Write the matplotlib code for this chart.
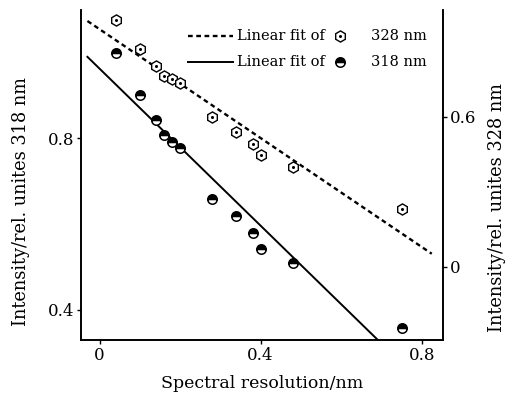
import numpy as np
import matplotlib
matplotlib.use("Agg")
import matplotlib.pyplot as plt
from matplotlib.lines import Line2D

plt.rcParams['font.family'] = ['DejaVu Serif']

# spectral resolution (nm)
res = [0.04, 0.10, 0.14, 0.16, 0.18, 0.20, 0.28, 0.34, 0.38, 0.40, 0.48, 0.75]
# 318 nm intensity (left axis)
i318 = [0.999, 0.901, 0.842, 0.807, 0.791, 0.777, 0.658, 0.619, 0.579, 0.542, 0.510, 0.359]
# 328 nm intensity (right axis)
i328 = [0.988, 0.871, 0.805, 0.764, 0.752, 0.735, 0.599, 0.540, 0.492, 0.447, 0.401, 0.231]

# linear fit lines
fit318_x = [-0.030, 0.689]
fit318_y = [0.989, 0.332]
fit328_x = [-0.030, 0.825]
fit328_y = [0.984, 0.053]

fig = plt.figure(figsize=(5.11, 3.97), dpi=100)
ax = fig.add_axes([0.1585, 0.1436, 0.7085, 0.8312])
ax2 = ax.twinx()

dash = dict(color='black', lw=1.7, dashes=(2.0, 1.5))
solid = dict(color='black', lw=1.4)
m318 = dict(marker='o', ms=6.8, fillstyle='top', markerfacecolor='black',
            markerfacecoloralt='white', markeredgecolor='black', markeredgewidth=1.1)
m328 = dict(marker='h', ms=8, markerfacecolor='white',
            markeredgecolor='black', markeredgewidth=1.0)

ax.plot(fit318_x, fit318_y, **solid)
ax.plot(res, i318, ls='none', **m318)

ax2.plot(fit328_x, fit328_y, **dash)
ax2.plot(res, i328, ls='none', **m328)
ax2.plot(res, i328, ls='none', marker='o', ms=1.2, color='black')

ax.set_xlim(-0.046, 0.853)
ax.set_ylim(0.330, 1.098)
ax2.set_ylim(-0.292, 1.028)

ax.set_xticks([0, 0.4, 0.8])
ax.set_xticklabels(['0', '0.4', '0.8'])
ax.set_yticks([0.4, 0.8])
ax.set_yticklabels(['0.4', '0.8'])
ax2.set_yticks([0, 0.6])
ax2.set_yticklabels(['0', '0.6'])

for a in (ax, ax2):
    a.spines['top'].set_visible(False)
    for s in a.spines.values():
        s.set_linewidth(1.2)
    a.tick_params(direction='out', length=3, width=1, labelsize=12, pad=2)

ax.set_xlabel('Spectral resolution/nm', fontsize=12.5)
ax.xaxis.set_label_coords(0.5, -0.105)
ax.set_ylabel('Intensity/rel. unites 318 nm', fontsize=12.8)
ax.yaxis.set_label_coords(-0.141, 0.42)
ax2.set_ylabel('Intensity/rel. unites 328 nm', fontsize=12.8)
ax2.yaxis.set_label_coords(1.124, 0.40)

# legend drawn by hand
t = ax.transAxes
rows = [(0.922, dash, '328 nm', m328), (0.843, solid, '318 nm', m318)]
for y, lstyle, lab, mstyle in rows:
    ax.add_line(Line2D([0.295, 0.420], [y, y], transform=t, **lstyle))
    ax.text(0.432, y, 'Linear fit of', transform=t, fontsize=10.5, va='center', ha='left')
    ax.add_line(Line2D([0.715], [y], transform=t, ls='none', **mstyle))
    ax.text(0.80, y, lab, transform=t, fontsize=10.5, va='center', ha='left')
ax.add_line(Line2D([0.715], [0.922], transform=t, ls='none', marker='o', ms=1.2, color='black'))

fig.savefig('out.png', dpi=100)
